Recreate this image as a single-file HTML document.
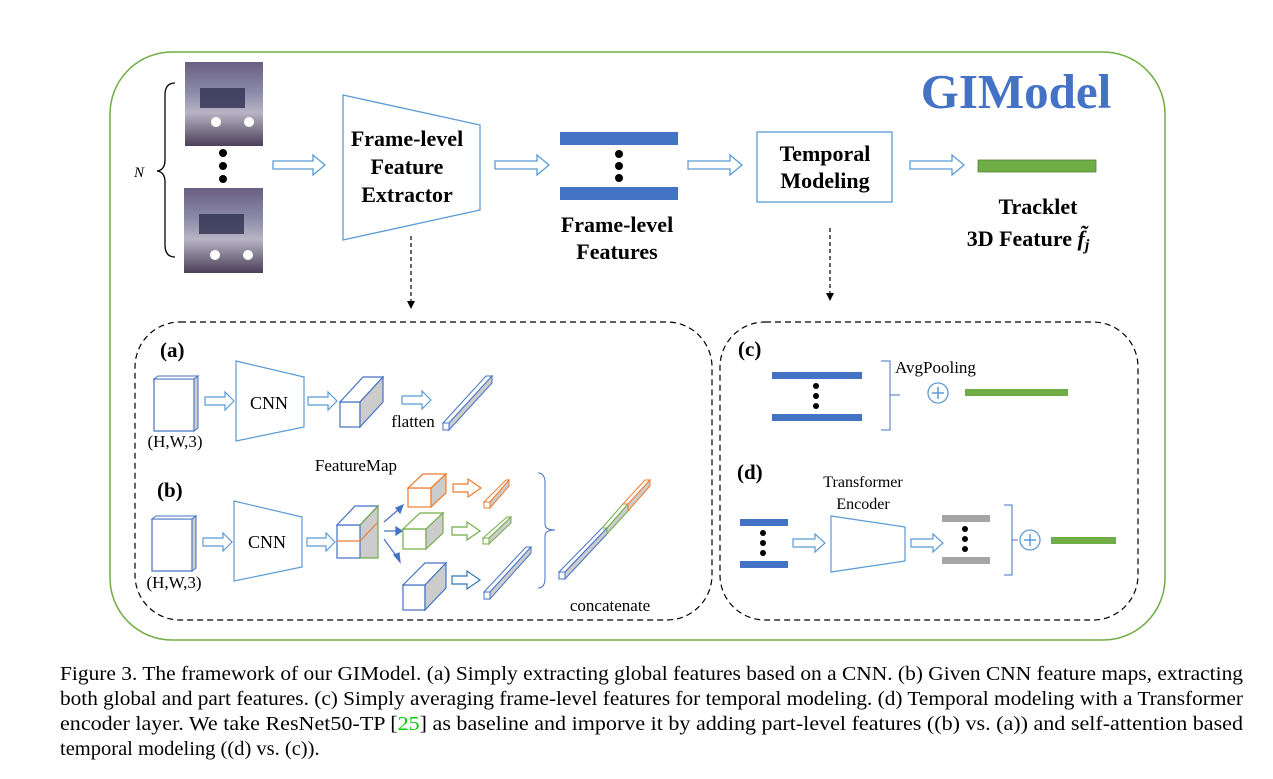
<!DOCTYPE html>
<html><head><meta charset="utf-8"><style>
html,body{margin:0;padding:0;background:#fff;}
svg{display:block;}
text{font-family:"Liberation Serif",serif;}
</style></head><body>
<svg width="1273" height="779" viewBox="0 0 1273 779" xmlns="http://www.w3.org/2000/svg">
<defs>
<linearGradient id="car" x1="0" y1="0" x2="0" y2="1">
<stop offset="0" stop-color="#6a5f80"/><stop offset="0.35" stop-color="#8a8aa8"/><stop offset="0.6" stop-color="#b8b4c4"/><stop offset="1" stop-color="#4a4058"/>
</linearGradient>
</defs>
<rect x="110" y="52" width="1055" height="588" rx="62" fill="none" stroke="#70AD47" stroke-width="1.5"/>
<text x="1016" y="108" font-size="49" font-weight="bold" fill="#4472C4" text-anchor="middle">GIModel</text>

<rect x="185" y="62" width="78" height="84" fill="url(#car)"/>
<rect x="200" y="88" width="45" height="20" fill="#2e3050" opacity="0.8"/>
<circle cx="216" cy="122" r="5" fill="#fff"/><circle cx="249" cy="122" r="5" fill="#fff"/>
<rect x="184" y="188" width="79" height="85" fill="url(#car)"/>
<rect x="199" y="214" width="45" height="20" fill="#2e3050" opacity="0.8"/>
<circle cx="215" cy="255" r="5" fill="#fff"/><circle cx="248" cy="255" r="5" fill="#fff"/>
<circle cx="223" cy="153" r="4" fill="#000"/><circle cx="223" cy="166" r="4" fill="#000"/><circle cx="223" cy="179" r="4" fill="#000"/>
<path d="M175,83 Q165,83 165,95 L165,160 Q165,170 157,171 Q165,172 165,182 L165,245 Q165,257 175,257" fill="none" stroke="#000" stroke-width="1.3"/>
<text x="134" y="177" font-size="15" font-style="italic">N</text>

<g fill="none" stroke="#5B9BD5" stroke-width="1.3">
<path d="M273,161 L313,161 L313,155 L325,165 L313,175 L313,169 L273,169 Z"/>
<path d="M495,161 L537,161 L537,155 L549,165 L537,175 L537,169 L495,169 Z"/>
<path d="M688,161 L730,161 L730,155 L742,165 L730,175 L730,169 L688,169 Z"/>
<path d="M910,161 L952,161 L952,155 L964,165 L952,175 L952,169 L910,169 Z"/>
</g>
<polygon points="343,95 480,125 480,210 343,240" fill="none" stroke="#5B9BD5" stroke-width="1.3"/>
<g font-size="22" font-weight="bold" text-anchor="middle">
<text x="407" y="146">Frame-level</text><text x="407" y="174">Feature</text><text x="407" y="202">Extractor</text>
</g>
<rect x="560" y="132" width="118" height="13" fill="#4472C4"/>
<rect x="560" y="187" width="118" height="13" fill="#4472C4"/>
<circle cx="619" cy="154" r="4" fill="#000"/><circle cx="619" cy="166" r="4" fill="#000"/><circle cx="619" cy="178" r="4" fill="#000"/>
<g font-size="22" font-weight="bold" text-anchor="middle">
<text x="617" y="232">Frame-level</text><text x="617" y="259">Features</text>
</g>
<rect x="757" y="132" width="135" height="70" fill="none" stroke="#5B9BD5" stroke-width="1.3"/>
<g font-size="22" font-weight="bold" text-anchor="middle">
<text x="825" y="161">Temporal</text><text x="825" y="188">Modeling</text>
</g>
<rect x="978" y="160" width="118" height="12" fill="#70AD47" stroke="#548235" stroke-width="0.8"/>
<g font-size="22" font-weight="bold" text-anchor="middle">
<text x="1038" y="214">Tracklet</text><text x="1028" y="246">3D Feature <tspan font-style="italic">f̃<tspan font-size="16" dy="4">j</tspan></tspan></text>
</g>

<g stroke="#000" stroke-width="1.2" stroke-dasharray="4,3">
<line x1="411" y1="236" x2="411" y2="302"/><line x1="830" y1="228" x2="830" y2="294"/>
</g>
<polygon points="407,301 415,301 411,309" fill="#000"/>
<polygon points="826,293 834,293 830,301" fill="#000"/>

<rect x="135" y="322" width="577" height="298" rx="45" fill="none" stroke="#000" stroke-width="1.2" stroke-dasharray="6,4"/>
<rect x="720" y="322" width="418" height="298" rx="45" fill="none" stroke="#000" stroke-width="1.2" stroke-dasharray="6,4"/>

<text x="160" y="357" font-size="21" font-weight="bold">(a)</text>
<rect x="154" y="379" width="40" height="52" fill="#fff" stroke="#4472C4" stroke-width="1.2"/>
<polygon points="194,379 198,376 198,428 194,431" fill="#ccc" stroke="#4472C4" stroke-width="1"/>
<polygon points="154,379 158,376 198,376 194,379" fill="#fff" stroke="#4472C4" stroke-width="1"/>
<text x="175" y="447" font-size="17" text-anchor="middle">(H,W,3)</text>
<g fill="none" stroke="#5B9BD5" stroke-width="1.2">
<path d="M205,397 L225,397 L225,392 L234,401 L225,410 L225,405 L205,405 Z"/>
<path d="M308,397 L328,397 L328,392 L337,401 L328,410 L328,405 L308,405 Z"/>
<path d="M402,396 L422,396 L422,391 L431,400 L422,409 L422,404 L402,404 Z"/>
<polygon points="236,361 304,377 304,427 236,441"/>
<polygon points="234,501 302,517 302,567 234,581"/>
<path d="M203,538 L223,538 L223,533 L232,542 L223,551 L223,546 L203,546 Z"/>
<path d="M307,538 L326,538 L326,533 L335,542 L326,551 L326,546 L307,546 Z"/>
</g>
<text x="269" y="409" font-size="18" text-anchor="middle">CNN</text>
<text x="267" y="548" font-size="18" text-anchor="middle">CNN</text>
<g stroke="#4472C4" stroke-width="1.2">
<rect x="340" y="402" width="20" height="25" fill="#fff"/>
<polygon points="340,402 363,377 383,377 360,402" fill="#fff"/>
<polygon points="360,402 383,377 383,402 360,427" fill="#ccc"/>
</g>
<text x="413" y="427" font-size="17" text-anchor="middle">flatten</text>
<g stroke="#4472C4" stroke-width="1">
<rect x="443" y="423" width="6" height="7" fill="#fff"/>
<polygon points="443,423 486,376 492,376 449,423" fill="#fff"/>
<polygon points="449,423 492,376 492,383 449,430" fill="#ccc"/>
</g>

<text x="157" y="497" font-size="21" font-weight="bold">(b)</text>
<rect x="152" y="519" width="40" height="52" fill="#fff" stroke="#4472C4" stroke-width="1.2"/>
<polygon points="192,519 196,516 196,568 192,571" fill="#ccc" stroke="#4472C4" stroke-width="1"/>
<polygon points="152,519 156,516 196,516 192,519" fill="#fff" stroke="#4472C4" stroke-width="1"/>
<text x="174" y="588" font-size="17" text-anchor="middle">(H,W,3)</text>
<text x="356" y="471" font-size="17" text-anchor="middle">FeatureMap</text>
<polygon points="360,525 378,506 378,558 360,558" fill="#ccc"/>
<rect x="337" y="525" width="23" height="33" fill="#fff" stroke="#4472C4" stroke-width="1.2"/>
<line x1="337" y1="541" x2="360" y2="541" stroke="#ED7D31" stroke-width="1.2"/>
<line x1="360" y1="541" x2="377" y2="523" stroke="#ED7D31" stroke-width="1.2"/>
<polygon points="337,525 355,506 378,506 360,525" fill="#fff" stroke="#4472C4" stroke-width="1.2"/>
<polyline points="360,525 378,506 378,558 360,558" fill="none" stroke="#70AD47" stroke-width="1.2"/>
<g stroke="#4472C4" stroke-width="1.2" fill="#4472C4">
<line x1="384" y1="522" x2="398" y2="510"/><polygon points="403,505 396,508 400,513"/>
<line x1="384" y1="531" x2="397" y2="531"/><polygon points="402,531 396,527 396,535"/>
<line x1="384" y1="539" x2="397" y2="557"/><polygon points="400,562 394,555 399,553"/>
</g>
<g stroke="#ED7D31" stroke-width="1.2">
<rect x="408" y="488" width="23" height="19" fill="#fff"/>
<polygon points="408,488 423,474 446,474 431,488" fill="#fff"/>
<polygon points="431,488 446,474 446,493 431,507" fill="#ccc"/>
</g>
<g stroke="#70AD47" stroke-width="1.2">
<rect x="403" y="529" width="23" height="20" fill="#fff"/>
<polygon points="403,529 420,513 443,513 426,529" fill="#fff"/>
<polygon points="426,529 443,513 443,533 426,549" fill="#ccc"/>
</g>
<g stroke="#4472C4" stroke-width="1.2">
<rect x="403" y="585" width="22" height="25" fill="#fff"/>
<polygon points="403,585 425,563 446,563 425,585" fill="#fff"/>
<polygon points="425,585 446,563 446,588 425,610" fill="#ccc"/>
</g>
<g fill="none" stroke-width="1.2">
<path d="M453,484 L468,484 L468,479 L481,488 L468,497 L468,492 L453,492 Z" stroke="#ED7D31"/>
<path d="M452,527 L467,527 L467,522 L480,531 L467,540 L467,535 L452,535 Z" stroke="#70AD47"/>
<path d="M452,576 L467,576 L467,571 L480,580 L467,589 L467,584 L452,584 Z" stroke="#2E75B6"/>
</g>
<g stroke-width="1">
<g stroke="#ED7D31"><rect x="484" y="502" width="6" height="6" fill="#fff"/><polygon points="484,502 506,480 509,480 490,502" fill="#fff"/><polygon points="490,502 509,480 509,486 490,508" fill="#ccc"/></g>
<g stroke="#70AD47"><rect x="483" y="538" width="6" height="6" fill="#fff"/><polygon points="483,538 507,517 511,517 489,538" fill="#fff"/><polygon points="489,538 511,517 511,523 489,544" fill="#ccc"/></g>
<g stroke="#4472C4"><rect x="484" y="592" width="6" height="7" fill="#fff"/><polygon points="484,592 526,547 531,547 490,592" fill="#fff"/><polygon points="490,592 531,547 531,553 490,599" fill="#ccc"/></g>
<g stroke="#4472C4"><rect x="559" y="572" width="6" height="7" fill="#fff"/><polygon points="559,572 602,528 607,528 565,572" fill="#fff"/><polygon points="565,572 607,528 607,534 565,579" fill="#ccc"/></g>
<g stroke="#70AD47"><polygon points="602,528 623,504 628,504 607,528" fill="#fff"/><polygon points="607,528 628,504 628,511 607,534" fill="#ccc"/></g>
<g stroke="#ED7D31"><polygon points="623,504 645,480 650,480 628,504" fill="#fff"/><polygon points="628,504 650,480 650,486 628,511" fill="#ccc"/></g>
</g>
<path d="M538,473 Q545,473 545,483 L545,524 Q545,530 555,530 Q545,530 545,536 L545,578 Q545,588 538,588" fill="none" stroke="#4472C4" stroke-width="1"/>
<text x="610" y="611" font-size="17" text-anchor="middle">concatenate</text>

<text x="738" y="356" font-size="21" font-weight="bold">(c)</text>
<rect x="772" y="372" width="90" height="7" fill="#4472C4"/>
<rect x="772" y="414" width="90" height="7" fill="#4472C4"/>
<circle cx="816" cy="386" r="3" fill="#000"/><circle cx="816" cy="396" r="3" fill="#000"/><circle cx="816" cy="406" r="3" fill="#000"/>
<path d="M881,361 L890,361 L890,395 L900,395 M890,395 L890,430 L881,430" fill="none" stroke="#4472C4" stroke-width="1"/>
<text x="895" y="373" font-size="17">AvgPooling</text>
<circle cx="938" cy="393" r="10" fill="none" stroke="#5B9BD5" stroke-width="1.3"/>
<path d="M932,393 H944 M938,387 V399" stroke="#5B9BD5" stroke-width="1.5"/>
<rect x="965" y="389" width="103" height="7" fill="#70AD47"/>

<text x="737" y="479" font-size="21" font-weight="bold">(d)</text>
<text x="863" y="487" font-size="16" text-anchor="middle">Transformer</text>
<text x="863" y="509" font-size="16" text-anchor="middle">Encoder</text>
<rect x="740" y="519" width="48" height="7" fill="#4472C4"/>
<rect x="740" y="561" width="48" height="7" fill="#4472C4"/>
<circle cx="763" cy="533" r="3" fill="#000"/><circle cx="763" cy="543" r="3" fill="#000"/><circle cx="763" cy="553" r="3" fill="#000"/>
<g fill="none" stroke="#5B9BD5" stroke-width="1.2">
<path d="M793,539 L815,539 L815,534 L825,543 L815,552 L815,547 L793,547 Z"/>
<polygon points="831,516 905,527 905,561 831,572"/>
<path d="M911,539 L933,539 L933,534 L943,543 L933,552 L933,547 L911,547 Z"/>
</g>
<rect x="942" y="515" width="48" height="7" fill="#a5a5a5"/>
<rect x="942" y="557" width="48" height="7" fill="#a5a5a5"/>
<circle cx="965" cy="529" r="3" fill="#000"/><circle cx="965" cy="539" r="3" fill="#000"/><circle cx="965" cy="549" r="3" fill="#000"/>
<path d="M1004,505 L1012,505 L1012,540 L1018,540 M1012,540 L1012,575 L1004,575" fill="none" stroke="#4472C4" stroke-width="1"/>
<circle cx="1030" cy="540" r="10" fill="none" stroke="#5B9BD5" stroke-width="1.3"/>
<path d="M1024,540 H1036 M1030,534 V546" stroke="#5B9BD5" stroke-width="1.5"/>
<rect x="1051" y="537" width="65" height="7" fill="#70AD47"/>

<g font-size="20.5">
<text x="60" y="680" textLength="1183" lengthAdjust="spacingAndGlyphs">Figure 3. The framework of our GIModel. (a) Simply extracting global features based on a CNN. (b) Given CNN feature maps, extracting</text>
<text x="60" y="705" textLength="1183" lengthAdjust="spacingAndGlyphs">both global and part features. (c) Simply averaging frame-level features for temporal modeling. (d) Temporal modeling with a Transformer</text>
<text x="60" y="730" textLength="1183" lengthAdjust="spacingAndGlyphs">encoder layer.  We take ResNet50-TP [<tspan fill="#00cc00">25</tspan>] as baseline and imporve it by adding part-level features ((b) vs.  (a)) and self-attention based</text>
<text x="60" y="755">temporal modeling ((d) vs. (c)).</text>
</g>
</svg>
</body></html>
